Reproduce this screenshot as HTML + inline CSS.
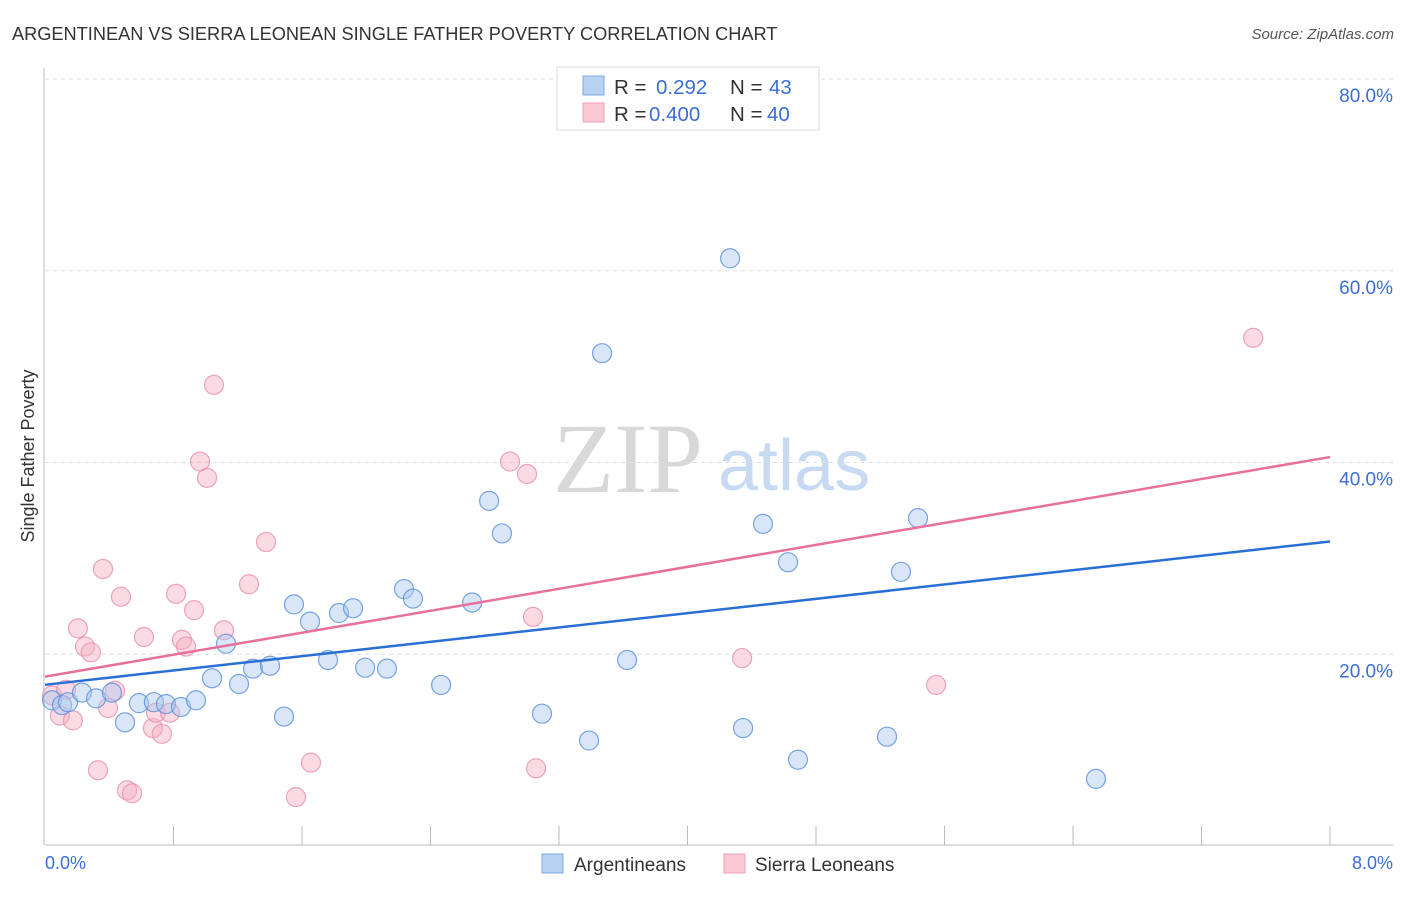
<!DOCTYPE html>
<html><head><meta charset="utf-8"><style>
body{margin:0;background:#fff;font-family:"Liberation Sans",sans-serif;}
</style></head><body>
<svg id="chart" width="1406" height="892" xmlns="http://www.w3.org/2000/svg" font-family="Liberation Sans, sans-serif">
<text x="12" y="40" font-size="18.2" fill="#333">ARGENTINEAN VS SIERRA LEONEAN SINGLE FATHER POVERTY CORRELATION CHART</text>
<text x="1394" y="39" font-size="15" fill="#555" font-style="italic" text-anchor="end">Source: ZipAtlas.com</text>
<g>
<text x="553" y="492" font-size="100" fill="#d8d8d8" style="font-family:'Liberation Serif',serif">ZIP</text>
<text x="718" y="490" font-size="72" fill="#c8daf2">atlas</text>
</g>
<g id="grid"></g>
<g id="axes"></g>
<g id="pts"></g>
<g id="lines"></g>
<text x="34" y="456" font-size="18" fill="#333" text-anchor="middle" transform="rotate(-90 34 456)">Single Father Poverty</text>
<text x="45" y="869" font-size="18" fill="#3a6fd8">0.0%</text>
<text x="1393" y="869" font-size="18" fill="#3a6fd8" text-anchor="end">8.0%</text>
<g>
<rect x="557" y="67" width="262" height="63" fill="#fff" stroke="#ddd"/>
<rect x="583" y="76" width="21" height="19" fill="#b8d2f4" stroke="#7fa8e0"/>
<rect x="583" y="103" width="21" height="19" fill="#fbc8d6" stroke="#f0a0b8"/>
<text font-size="20.5" y="94"><tspan x="614" fill="#333">R = </tspan><tspan x="656" fill="#3a6fd8">0.292</tspan><tspan x="730" fill="#333">N = </tspan><tspan x="769" fill="#3a6fd8">43</tspan></text>
<text font-size="20.5" y="121"><tspan x="614" fill="#333">R = </tspan><tspan x="649" fill="#3a6fd8">0.400</tspan><tspan x="730" fill="#333">N = </tspan><tspan x="767" fill="#3a6fd8">40</tspan></text>
</g>
<g>
<rect x="542" y="854" width="21" height="19" fill="#b8d2f4" stroke="#7fa8e0"/>
<text x="574" y="871" font-size="19" fill="#333">Argentineans</text>
<rect x="724" y="854" width="21" height="19" fill="#fbc8d6" stroke="#f0a0b8"/>
<text x="755" y="871" font-size="19" fill="#333">Sierra Leoneans</text>
</g>
</svg>
<script>
const yTicks=[20,40,60,80];
const yTickLabels=["20.0%","40.0%","60.0%","80.0%"];
const xTickCount=10;
const blueX=[0.044,0.106,0.143,0.230,0.318,0.417,0.498,0.585,0.678,0.753,0.847,0.940,1.040,1.127,1.208,1.295,1.401,1.488,1.550,1.650,1.762,1.830,1.918,1.993,2.129,2.235,2.291,2.466,2.659,2.765,2.845,3.094,3.387,3.468,3.624,4.265,4.346,4.470,4.626,4.688,5.242,5.329,5.435,6.543];
const blueY=[15.2,14.7,15.0,16.0,15.4,16.0,12.9,14.9,15.0,14.8,14.5,15.2,17.5,21.1,16.9,18.5,18.8,13.5,25.2,23.4,19.4,24.3,24.8,18.6,18.5,26.8,25.8,16.8,25.4,36.0,32.6,13.8,11.0,51.4,19.4,61.3,12.3,33.6,29.6,9.0,11.4,28.6,34.2,7.0];
const pinkX=[0.044,0.093,0.131,0.174,0.205,0.249,0.286,0.330,0.361,0.392,0.436,0.473,0.511,0.542,0.616,0.672,0.691,0.728,0.778,0.816,0.853,0.878,0.928,0.965,1.009,1.052,1.114,1.270,1.376,1.562,1.656,2.895,3.001,3.038,3.057,4.340,5.548,7.522];
const pinkY=[15.7,13.6,16.3,13.1,22.7,20.8,20.2,7.9,28.9,14.4,16.2,26.0,5.8,5.5,21.8,12.3,13.9,11.7,13.9,26.3,21.5,20.8,24.6,40.1,38.4,48.1,22.5,27.3,31.7,5.1,8.7,40.1,38.8,23.9,8.1,19.6,16.8,53.0];
const X0=45,X1=1330,Y0=846,PXPER=191.75/20;
function sx(v){return X0+(X1-X0)*v/8;}
function sy(v){return Y0-v*PXPER;}
const NS="http://www.w3.org/2000/svg";
function mk(tag,attrs,parent){const e=document.createElementNS(NS,tag);for(const k in attrs)e.setAttribute(k,attrs[k]);document.getElementById(parent).appendChild(e);return e;}
yTicks.forEach((t,i)=>{
 const l=mk('line',{x1:45,x2:1393,y1:sy(t),y2:sy(t),stroke:'#ddd','stroke-dasharray':'4,4'},'grid');
 
 
 const tx=mk('text',{x:1393,y:sy(t)+23,'font-size':19,fill:'#3a6fd8','text-anchor':'end'},'grid');
 tx.textContent=yTickLabels[i];
 
 
});
let ax=mk('line',{x1:45,x2:1393,y1:845,y2:845,stroke:'#bbb'},'axes');


let ay=mk('line',{x1:44,x2:44,y1:68,y2:845,stroke:'#bbb'},'axes');


for(let i=1;i<=xTickCount;i++){
 const t=mk('line',{x1:sx(i*0.8),x2:sx(i*0.8),y1:826,y2:845,stroke:'#bbb'},'axes');
 
 
}
function pts(xs,ys,fill,stroke,name){
 xs.forEach((x,i)=>{
  const c=mk('circle',{cx:sx(x),cy:sy(ys[i]),r:9.5,fill:fill,'fill-opacity':0.45,stroke:stroke,'stroke-opacity':0.8,'stroke-width':1.2},'pts');
  
  
 });
}
pts(pinkX,pinkY,'#f4b0c4','#e890aa','point-sierra-leonean');
pts(blueX,blueY,'#a8c8f0','#5a8fd8','point-argentinean');
function reg(xs,ys){const n=xs.length;let mx=0,my=0;xs.forEach((x,i)=>{mx+=x;my+=ys[i];});mx/=n;my/=n;let sxy=0,sxx=0;xs.forEach((x,i)=>{sxy+=(x-mx)*(ys[i]-my);sxx+=(x-mx)*(x-mx);});const b=sxy/sxx;return [my-b*mx,b];}
function tl(xs,ys,color,name){const [a,b]=reg(xs,ys);const l=mk('line',{x1:sx(0),y1:sy(a),x2:sx(8),y2:sy(a+8*b),stroke:color,'stroke-width':2.5},'lines');
 
 }
tl(blueX,blueY,'#2a6fd6','trendline-argentineans');
tl(pinkX,pinkY,'#e8709a','trendline-sierra-leoneans');
</script>
</body></html>
